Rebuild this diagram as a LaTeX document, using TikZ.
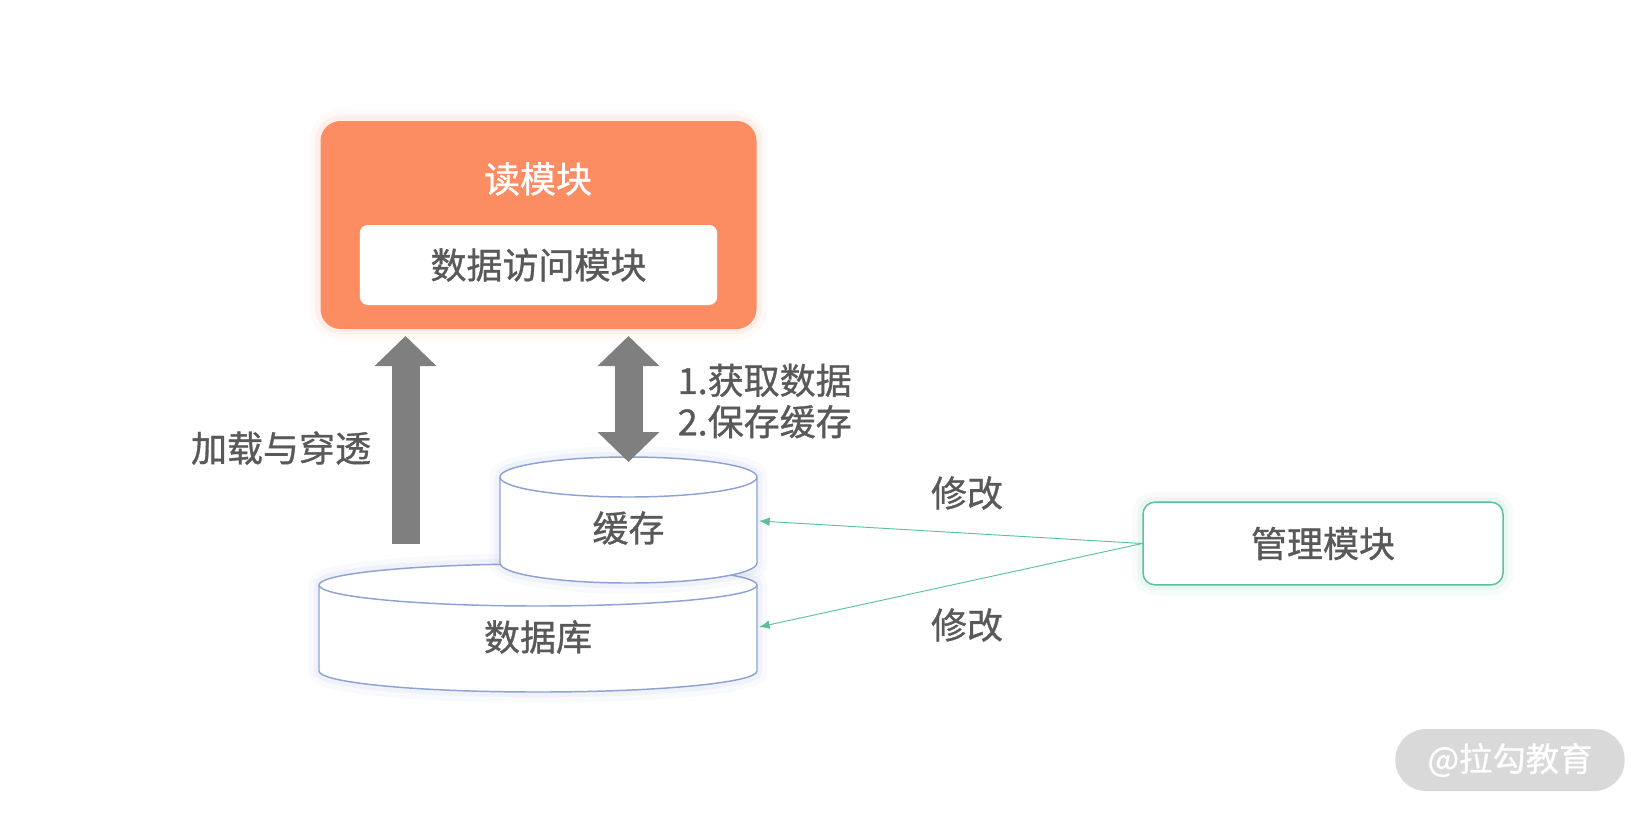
\documentclass[tikz,border=0pt]{standalone}
\usepackage{fontspec}
\newfontfamily\cjk[FakeBold=0.9]{Noto Sans CJK SC}
\usetikzlibrary{arrows.meta}
\definecolor{readorange}{HTML}{FC8D63}
\definecolor{txtgray}{HTML}{595959}
\definecolor{arrgray}{HTML}{7F7F7F}
\definecolor{cylblue}{HTML}{8EA2D4}
\definecolor{mgmtgreen}{HTML}{5CC09B}
\definecolor{markgray}{HTML}{D9D9D9}
\tikzset{
	glow/.style     = {preaction={draw=#1, line width=16pt, opacity=0.05},
		preaction={draw=#1, line width=8pt, opacity=0.09}},
	readbox/.style  = {fill=readorange, rounded corners=15pt, minimum width=327pt,
		minimum height=156pt, glow=readorange},
	innerbox/.style = {fill=white, rounded corners=6pt, minimum width=268pt,
		minimum height=60pt},
	mgmtbox/.style  = {draw=mgmtgreen, line width=1.1pt, fill=white, rounded corners=9pt,
		minimum width=270pt, minimum height=62pt, glow=mgmtgreen},
	txt/.style      = {font=\cjk\fontsize{27pt}{31pt}\selectfont, text=txtgray},
	wmark/.style    = {fill=markgray, rounded corners=23pt, minimum width=172pt,
		minimum height=46.5pt, text=white, font=\cjk\fontsize{25pt}{28pt}\selectfont},
	blockarrow/.style = {draw=arrgray, line width=21pt},
	modarrow/.style = {draw=mgmtgreen, line width=0.7pt, -{Latex[length=8pt, width=6.5pt]}},
	cyl/.style      = {draw=cylblue, line width=1.1pt, fill=white}
}
% xl, xr, y top, y bottom, x radius, y radius
\newcommand{\drawcyl}[6]{
	\path[cyl, glow=cylblue] (#1,#4) arc[start angle=180, end angle=360, x radius=#5, y radius=#6]
		-- (#2,#3) arc[start angle=0, end angle=180, x radius=#5, y radius=#6] -- cycle;
	\draw[cylblue, line width=1.1pt] (#1,#3) arc[start angle=180, end angle=360, x radius=#5, y radius=#6];
}

\begin{document}
\begin{tikzpicture}[x=0.75pt, y=-0.75pt]
\useasboundingbox (0,0) rectangle (1648,815);

\drawcyl{319}{757}{585}{671}{164.25pt}{15.75pt}
\drawcyl{500}{757}{477}{563}{96.375pt}{15pt}

\draw
node at (538.5,225) [readbox] (rd) {}
node at (538,179) [txt, text=white] (rdtitle) {读模块}
node at (538.5,265) [innerbox, txt] (dao) {数据访问模块}
node at (628.5,528) [txt] (cache) {缓存}
node at (538,637) [txt] (db) {数据库}
node at (1323,543.5) [mgmtbox, txt] (mgmt) {管理模块}
node at (281,448) [txt] (load) {加载与穿透}
node at (673,401) [txt, anchor=west, align=left] (steps) {1.获取数据\\2.保存缓存}
node at (967,493) [txt] (mod1) {修改}
node at (967,625) [txt] (mod2) {修改}
node at (1510,760) [wmark] (wm) {@拉勾教育};

\coordinate (loadfoot) at (405.5,544);
\coordinate (loadtip) at (405.5,336);
\coordinate (rwtop) at (628.5,336);
\coordinate (rwbot) at (628.5,462);
\coordinate (cacheE) at (759,521);
\coordinate (dbE) at (759,627);

\draw[blockarrow, -{Triangle[width=45pt, length=22.5pt]}] (loadfoot)--(loadtip);
\draw[blockarrow, {Triangle[width=45pt, length=22.5pt]}-{Triangle[width=45pt, length=22.5pt]}] (rwtop)--(rwbot);
\draw[modarrow] (mgmt.west)--(cacheE);
\draw[modarrow] (mgmt.west)--(dbE);
\end{tikzpicture}
\end{document}
